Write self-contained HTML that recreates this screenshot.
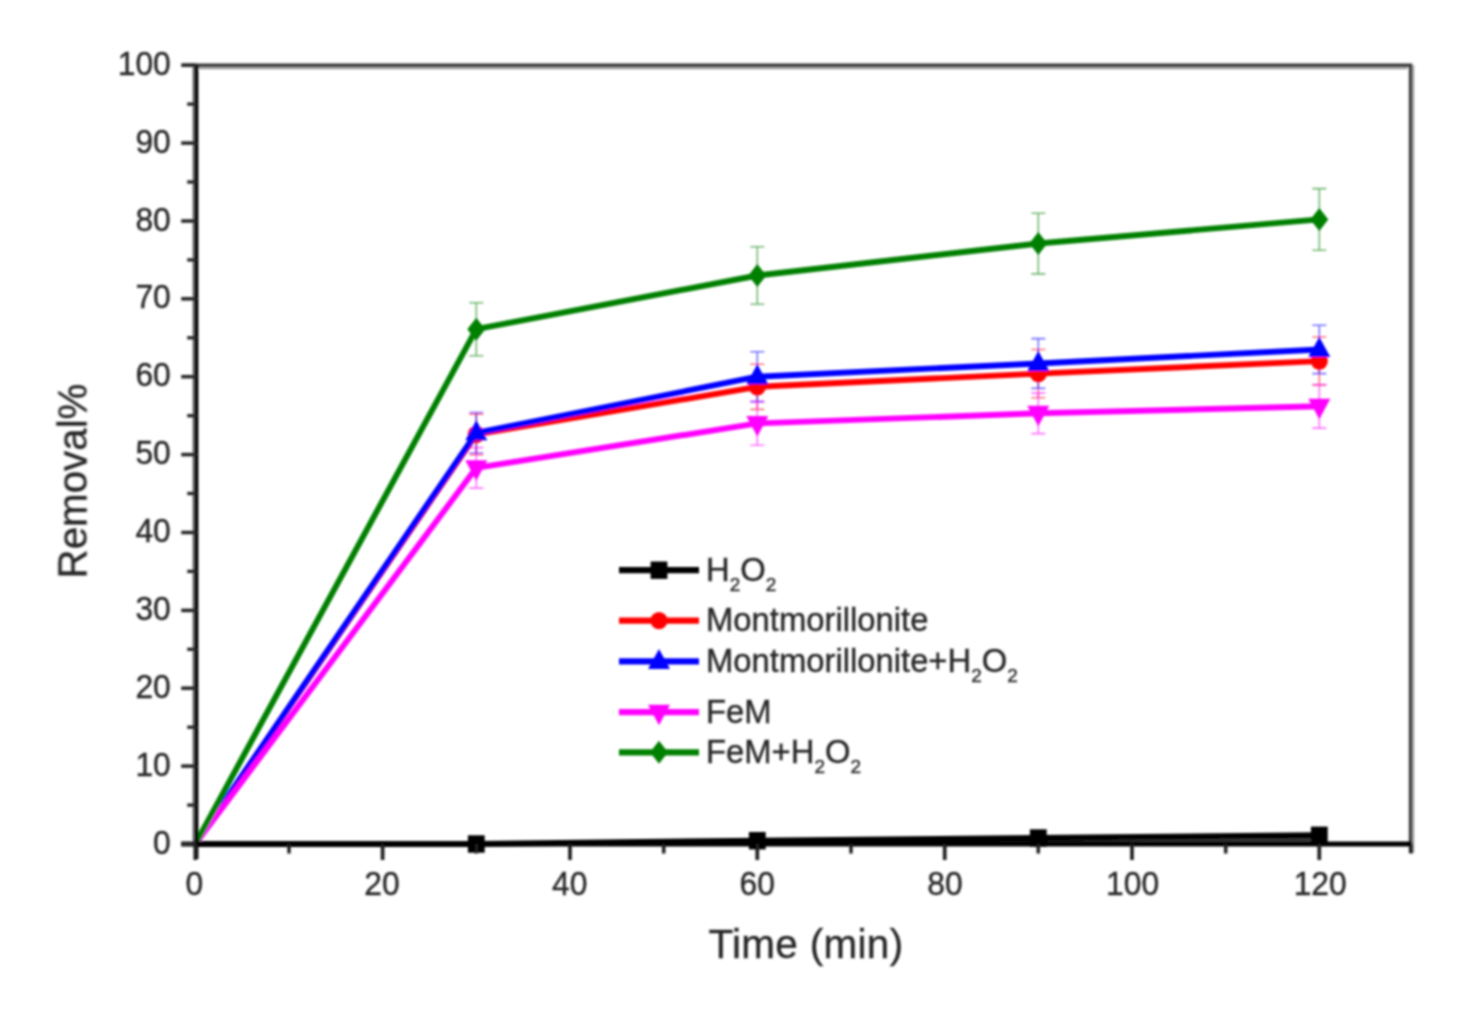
<!DOCTYPE html>
<html><head><meta charset="utf-8"><title>Removal% vs Time</title>
<style>html,body{margin:0;padding:0;background:#fff;}body{width:1457px;height:1015px;overflow:hidden;}svg{display:block;}text{font-family:"Liberation Sans",Arial,sans-serif;fill:#262626;stroke:#262626;stroke-width:0.35px;}</style></head><body>
<svg width="1457" height="1015" viewBox="0 0 1457 1015">
<defs><filter id="bl" x="-2%" y="-2%" width="104%" height="104%"><feGaussianBlur stdDeviation="1.0"/></filter></defs>
<rect width="1457" height="1015" fill="#fff"/>
<g filter="url(#bl)">
<path d="M182.2,65.2 H1410.6 V853.0" fill="none" stroke="#3c3c3c" stroke-width="3.6"/>
<path d="M196.2,68.2 H1407.6" fill="none" stroke="#999" stroke-width="2"/>
<path d="M1413.2,65.2 V853.0" fill="none" stroke="#999" stroke-width="2"/>
<polygon points="195.3,844.0 476.3,844.0 757.3,840.7 1038.3,838.0 1319.3,835.3 1319.3,844.0 195.3,844.0" fill="#3a3a3a"/>
<path d="M476.3,414.1 V454.6 M469.3,414.1 h14 M469.3,454.6 h14" stroke="#ff0000" stroke-width="1.6" stroke-opacity="0.55" fill="none"/>
<path d="M757.3,364.3 V409.4 M750.3,364.3 h14 M750.3,409.4 h14" stroke="#ff0000" stroke-width="1.6" stroke-opacity="0.55" fill="none"/>
<path d="M1038.3,349.5 V397.7 M1031.3,349.5 h14 M1031.3,397.7 h14" stroke="#ff0000" stroke-width="1.6" stroke-opacity="0.55" fill="none"/>
<path d="M1319.3,337.0 V385.3 M1312.3,337.0 h14 M1312.3,385.3 h14" stroke="#ff0000" stroke-width="1.6" stroke-opacity="0.55" fill="none"/>
<path d="M476.3,412.5 V453.0 M469.3,412.5 h14 M469.3,453.0 h14" stroke="#0000ff" stroke-width="1.6" stroke-opacity="0.55" fill="none"/>
<path d="M757.3,351.8 V401.6 M750.3,351.8 h14 M750.3,401.6 h14" stroke="#0000ff" stroke-width="1.6" stroke-opacity="0.55" fill="none"/>
<path d="M1038.3,338.6 V388.4 M1031.3,338.6 h14 M1031.3,388.4 h14" stroke="#0000ff" stroke-width="1.6" stroke-opacity="0.55" fill="none"/>
<path d="M1319.3,325.3 V373.6 M1312.3,325.3 h14 M1312.3,373.6 h14" stroke="#0000ff" stroke-width="1.6" stroke-opacity="0.55" fill="none"/>
<path d="M476.3,447.6 V488.1 M469.3,447.6 h14 M469.3,488.1 h14" stroke="#ff00ff" stroke-width="1.6" stroke-opacity="0.55" fill="none"/>
<path d="M757.3,401.6 V445.3 M750.3,401.6 h14 M750.3,445.3 h14" stroke="#ff00ff" stroke-width="1.6" stroke-opacity="0.55" fill="none"/>
<path d="M1038.3,393.1 V433.6 M1031.3,393.1 h14 M1031.3,433.6 h14" stroke="#ff00ff" stroke-width="1.6" stroke-opacity="0.55" fill="none"/>
<path d="M1319.3,384.5 V428.1 M1312.3,384.5 h14 M1312.3,428.1 h14" stroke="#ff00ff" stroke-width="1.6" stroke-opacity="0.55" fill="none"/>
<path d="M476.3,302.7 V355.7 M469.3,302.7 h14 M469.3,355.7 h14" stroke="#008000" stroke-width="1.6" stroke-opacity="0.55" fill="none"/>
<path d="M757.3,246.7 V304.3 M750.3,246.7 h14 M750.3,304.3 h14" stroke="#008000" stroke-width="1.6" stroke-opacity="0.55" fill="none"/>
<path d="M1038.3,213.2 V273.9 M1031.3,213.2 h14 M1031.3,273.9 h14" stroke="#008000" stroke-width="1.6" stroke-opacity="0.55" fill="none"/>
<path d="M1319.3,188.6 V250.2 M1312.3,188.6 h14 M1312.3,250.2 h14" stroke="#008000" stroke-width="1.6" stroke-opacity="0.55" fill="none"/>
<polyline points="195.3,844.0 476.3,844.0 757.3,840.7 1038.3,838.0 1319.3,835.3" fill="none" stroke="#000000" stroke-width="5.9" stroke-linejoin="round"/>
<rect x="467.9" y="835.3" width="16.8" height="17.4" fill="#000000"/>
<rect x="748.9" y="832.0" width="16.8" height="17.4" fill="#000000"/>
<rect x="1029.9" y="829.3" width="16.8" height="17.4" fill="#000000"/>
<rect x="1310.9" y="826.6" width="16.8" height="17.4" fill="#000000"/>
<polyline points="195.3,844.0 476.3,434.4 757.3,386.8 1038.3,373.6 1319.3,361.1" fill="none" stroke="#ff0000" stroke-width="5.9" stroke-linejoin="round"/>
<circle cx="476.3" cy="434.4" r="8.6" fill="#ff0000"/>
<circle cx="757.3" cy="386.8" r="8.6" fill="#ff0000"/>
<circle cx="1038.3" cy="373.6" r="8.6" fill="#ff0000"/>
<circle cx="1319.3" cy="361.1" r="8.6" fill="#ff0000"/>
<polyline points="195.3,844.0 476.3,432.8 757.3,376.7 1038.3,363.5 1319.3,349.5" fill="none" stroke="#0000ff" stroke-width="5.9" stroke-linejoin="round"/>
<polygon points="465.3,440.3 487.3,440.3 476.3,420.3" fill="#0000ff"/>
<polygon points="746.3,384.2 768.3,384.2 757.3,364.2" fill="#0000ff"/>
<polygon points="1027.3,371.0 1049.3,371.0 1038.3,351.0" fill="#0000ff"/>
<polygon points="1308.3,357.0 1330.3,357.0 1319.3,337.0" fill="#0000ff"/>
<polyline points="195.3,844.0 476.3,467.8 757.3,423.4 1038.3,413.3 1319.3,406.3" fill="none" stroke="#ff00ff" stroke-width="5.9" stroke-linejoin="round"/>
<polygon points="465.3,460.3 487.3,460.3 476.3,480.8" fill="#ff00ff"/>
<polygon points="746.3,415.9 768.3,415.9 757.3,436.4" fill="#ff00ff"/>
<polygon points="1027.3,405.8 1049.3,405.8 1038.3,426.3" fill="#ff00ff"/>
<polygon points="1308.3,398.8 1330.3,398.8 1319.3,419.3" fill="#ff00ff"/>
<polyline points="195.3,844.0 476.3,329.2 757.3,275.5 1038.3,243.5 1319.3,219.4" fill="none" stroke="#008000" stroke-width="5.9" stroke-linejoin="round"/>
<polygon points="467.3,329.2 476.3,317.7 485.3,329.2 476.3,340.7" fill="#008000"/>
<polygon points="748.3,275.5 757.3,264.0 766.3,275.5 757.3,287.0" fill="#008000"/>
<polygon points="1029.3,243.5 1038.3,232.0 1047.3,243.5 1038.3,255.0" fill="#008000"/>
<polygon points="1310.3,219.4 1319.3,207.9 1328.3,219.4 1319.3,230.9" fill="#008000"/>
<path d="M196.2,65.2 V859.0" stroke="#000" stroke-width="4.4" fill="none"/>
<path d="M193.4,65.2 V844.0" stroke="#777" stroke-width="2" fill="none"/>
<path d="M181.2,844.0 H1412.1" stroke="#000" stroke-width="5" fill="none"/>
<path d="M181.2,844.0 H196.2" stroke="#2a2a2a" stroke-width="3.6"/>
<path d="M187.2,805.1 H196.2" stroke="#2a2a2a" stroke-width="3.4"/>
<path d="M181.2,766.1 H196.2" stroke="#2a2a2a" stroke-width="3.6"/>
<path d="M187.2,727.2 H196.2" stroke="#2a2a2a" stroke-width="3.4"/>
<path d="M181.2,688.2 H196.2" stroke="#2a2a2a" stroke-width="3.6"/>
<path d="M187.2,649.3 H196.2" stroke="#2a2a2a" stroke-width="3.4"/>
<path d="M181.2,610.4 H196.2" stroke="#2a2a2a" stroke-width="3.6"/>
<path d="M187.2,571.4 H196.2" stroke="#2a2a2a" stroke-width="3.4"/>
<path d="M181.2,532.5 H196.2" stroke="#2a2a2a" stroke-width="3.6"/>
<path d="M187.2,493.5 H196.2" stroke="#2a2a2a" stroke-width="3.4"/>
<path d="M181.2,454.6 H196.2" stroke="#2a2a2a" stroke-width="3.6"/>
<path d="M187.2,415.7 H196.2" stroke="#2a2a2a" stroke-width="3.4"/>
<path d="M181.2,376.7 H196.2" stroke="#2a2a2a" stroke-width="3.6"/>
<path d="M187.2,337.8 H196.2" stroke="#2a2a2a" stroke-width="3.4"/>
<path d="M181.2,298.8 H196.2" stroke="#2a2a2a" stroke-width="3.6"/>
<path d="M187.2,259.9 H196.2" stroke="#2a2a2a" stroke-width="3.4"/>
<path d="M181.2,221.0 H196.2" stroke="#2a2a2a" stroke-width="3.6"/>
<path d="M187.2,182.0 H196.2" stroke="#2a2a2a" stroke-width="3.4"/>
<path d="M181.2,143.1 H196.2" stroke="#2a2a2a" stroke-width="3.6"/>
<path d="M187.2,104.1 H196.2" stroke="#2a2a2a" stroke-width="3.4"/>
<path d="M181.2,65.2 H196.2" stroke="#2a2a2a" stroke-width="3.6"/>
<path d="M195.3,844.0 V860.0" stroke="#1a1a1a" stroke-width="3.6"/>
<path d="M289.0,844.0 V853.5" stroke="#1a1a1a" stroke-width="3.4"/>
<path d="M382.6,844.0 V860.0" stroke="#1a1a1a" stroke-width="3.6"/>
<path d="M476.3,844.0 V853.5" stroke="#1a1a1a" stroke-width="3.4"/>
<path d="M570.0,844.0 V860.0" stroke="#1a1a1a" stroke-width="3.6"/>
<path d="M663.7,844.0 V853.5" stroke="#1a1a1a" stroke-width="3.4"/>
<path d="M757.3,844.0 V860.0" stroke="#1a1a1a" stroke-width="3.6"/>
<path d="M851.0,844.0 V853.5" stroke="#1a1a1a" stroke-width="3.4"/>
<path d="M944.7,844.0 V860.0" stroke="#1a1a1a" stroke-width="3.6"/>
<path d="M1038.3,844.0 V853.5" stroke="#1a1a1a" stroke-width="3.4"/>
<path d="M1132.0,844.0 V860.0" stroke="#1a1a1a" stroke-width="3.6"/>
<path d="M1225.7,844.0 V853.5" stroke="#1a1a1a" stroke-width="3.4"/>
<path d="M1319.3,844.0 V860.0" stroke="#1a1a1a" stroke-width="3.6"/>
<path d="M1411.2,844.0 V853.5" stroke="#1a1a1a" stroke-width="3.4"/>
<text transform="translate(170.8,853.6) scale(0.965,1)" font-size="33" text-anchor="end">0</text>
<text transform="translate(170.8,775.7) scale(0.965,1)" font-size="33" text-anchor="end">10</text>
<text transform="translate(170.8,697.8) scale(0.965,1)" font-size="33" text-anchor="end">20</text>
<text transform="translate(170.8,620.0) scale(0.965,1)" font-size="33" text-anchor="end">30</text>
<text transform="translate(170.8,542.1) scale(0.965,1)" font-size="33" text-anchor="end">40</text>
<text transform="translate(170.8,464.2) scale(0.965,1)" font-size="33" text-anchor="end">50</text>
<text transform="translate(170.8,386.3) scale(0.965,1)" font-size="33" text-anchor="end">60</text>
<text transform="translate(170.8,308.4) scale(0.965,1)" font-size="33" text-anchor="end">70</text>
<text transform="translate(170.8,230.6) scale(0.965,1)" font-size="33" text-anchor="end">80</text>
<text transform="translate(170.8,152.7) scale(0.965,1)" font-size="33" text-anchor="end">90</text>
<text transform="translate(170.8,74.8) scale(0.965,1)" font-size="33" text-anchor="end">100</text>
<text transform="translate(194.4,894.7) scale(0.965,1)" font-size="33" text-anchor="middle">0</text>
<text transform="translate(382.0,894.7) scale(0.965,1)" font-size="33" text-anchor="middle">20</text>
<text transform="translate(569.7,894.7) scale(0.965,1)" font-size="33" text-anchor="middle">40</text>
<text transform="translate(757.3,894.7) scale(0.965,1)" font-size="33" text-anchor="middle">60</text>
<text transform="translate(945.0,894.7) scale(0.965,1)" font-size="33" text-anchor="middle">80</text>
<text transform="translate(1132.6,894.7) scale(0.965,1)" font-size="33" text-anchor="middle">100</text>
<text transform="translate(1320.2,894.7) scale(0.965,1)" font-size="33" text-anchor="middle">120</text>
<text x="806" y="958" font-size="40.5" letter-spacing="0.3" text-anchor="middle">Time (min)</text>
<text transform="translate(86.5,481) rotate(-90)" font-size="40.3" text-anchor="middle">Removal%</text>
<path d="M619,570.2 H699" stroke="#000000" stroke-width="6.2"/>
<rect x="650.6" y="561.5" width="16.8" height="17.4" fill="#000000"/>
<text x="706" y="580.7" font-size="32.8">H<tspan font-size="19" dy="10">2</tspan><tspan dy="-10">O</tspan><tspan font-size="19" dy="10">2</tspan></text>
<path d="M619,620.6 H699" stroke="#ff0000" stroke-width="6.2"/>
<circle cx="659.0" cy="620.6" r="8.6" fill="#ff0000"/>
<text x="706" y="631.1" font-size="32.8">Montmorillonite</text>
<path d="M619,661.4 H699" stroke="#0000ff" stroke-width="6.2"/>
<polygon points="648.0,668.9 670.0,668.9 659.0,648.9" fill="#0000ff"/>
<text x="706" y="671.9" font-size="32.8">Montmorillonite+H<tspan font-size="19" dy="10">2</tspan><tspan dy="-10">O</tspan><tspan font-size="19" dy="10">2</tspan></text>
<path d="M619,712.2 H699" stroke="#ff00ff" stroke-width="6.2"/>
<polygon points="648.0,704.7 670.0,704.7 659.0,725.2" fill="#ff00ff"/>
<text x="706" y="722.7" font-size="32.8">FeM</text>
<path d="M619,752.3 H699" stroke="#008000" stroke-width="6.2"/>
<polygon points="650.0,752.3 659.0,740.8 668.0,752.3 659.0,763.8" fill="#008000"/>
<text x="706" y="762.8" font-size="32.8">FeM+H<tspan font-size="19" dy="10">2</tspan><tspan dy="-10">O</tspan><tspan font-size="19" dy="10">2</tspan></text>
</g></svg></body></html>
